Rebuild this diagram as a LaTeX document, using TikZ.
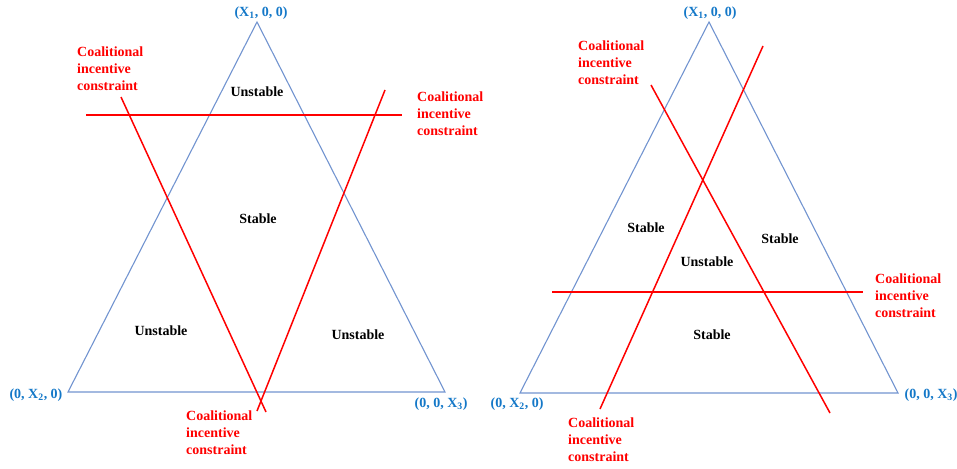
\documentclass[tikz,border=0pt]{standalone}
\usepackage{fontspec}
\setmainfont{Liberation Serif}
\definecolor{triblue}{RGB}{114,148,208}
\definecolor{lblblue}{RGB}{20,120,200}
\definecolor{cred}{RGB}{255,0,0}
\begin{document}
\begin{tikzpicture}[x=1pt,y=-1pt,
  tri/.style={draw=triblue,line width=1.1pt,line join=miter},
  cic/.style={draw=cred,line width=1.5pt},
  cictext/.style={text=cred,font=\fontsize{14}{16.8}\selectfont\bfseries,align=left,anchor=north west,inner sep=0pt},
  region/.style={font=\fontsize{14}{16.8}\selectfont\bfseries,inner sep=0pt},
  vlabel/.style={text=lblblue,font=\fontsize{14}{16.8}\selectfont\bfseries,inner sep=0pt}]
\useasboundingbox (0,0) rectangle (957,468);
% ---------- left triangle ----------
\coordinate (LA) at (257,22);
\coordinate (LB) at (68,392);
\coordinate (LC) at (445,392);
\draw[tri] (LA) -- (LB) -- (LC) -- cycle;
\coordinate (Lh1) at (86,115);
\coordinate (Lh2) at (402,115);
\coordinate (Ld1) at (121,97);
\coordinate (Ld2) at (266,412);
\coordinate (Lu1) at (385,90);
\coordinate (Lu2) at (257,411);
\draw[cic] (Lh1) -- (Lh2);
\draw[cic] (Ld1) -- (Ld2);
\draw[cic] (Lu1) -- (Lu2);
\node[vlabel] (LAl) at (261,13) {(X\textsubscript{1}, 0, 0)};
\node[vlabel] (LBl) at (36,395) {(0, X\textsubscript{2}, 0)};
\node[vlabel] (LCl) at (441,404) {(0, 0, X\textsubscript{3})};
\node[cictext] (Lt1) at (77,47) {Coalitional\\incentive\\constraint};
\node[cictext] (Lt2) at (417,92) {Coalitional\\incentive\\constraint};
\node[cictext] (Lt3) at (186,411) {Coalitional\\incentive\\constraint};
\node[region] (Lr1) at (257,92) {Unstable};
\node[region] (Lr2) at (258,219) {Stable};
\node[region] (Lr3) at (161,331) {Unstable};
\node[region] (Lr4) at (358,335) {Unstable};
% ---------- right triangle ----------
\coordinate (RA) at (709,22);
\coordinate (RB) at (520,393);
\coordinate (RC) at (898,393);
\draw[tri] (RA) -- (RB) -- (RC) -- cycle;
\coordinate (Rh1) at (552,292);
\coordinate (Rh2) at (863,292);
\coordinate (Rd1) at (651,85);
\coordinate (Rd2) at (830,413);
\coordinate (Ru1) at (763,46);
\coordinate (Ru2) at (600,409);
\draw[cic] (Rh1) -- (Rh2);
\draw[cic] (Rd1) -- (Rd2);
\draw[cic] (Ru1) -- (Ru2);
\node[vlabel] (RAl) at (710,13) {(X\textsubscript{1}, 0, 0)};
\node[vlabel] (RBl) at (517,404) {(0, X\textsubscript{2}, 0)};
\node[vlabel] (RCl) at (931,395) {(0, 0, X\textsubscript{3})};
\node[cictext] (Rt1) at (578,41) {Coalitional\\incentive\\constraint};
\node[cictext] (Rt2) at (875,274) {Coalitional\\incentive\\constraint};
\node[cictext] (Rt3) at (568,418) {Coalitional\\incentive\\constraint};
\node[region] (Rr1) at (646,228) {Stable};
\node[region] (Rr2) at (780,239) {Stable};
\node[region] (Rr3) at (707,262) {Unstable};
\node[region] (Rr4) at (712,335) {Stable};
\end{tikzpicture}
\end{document}
